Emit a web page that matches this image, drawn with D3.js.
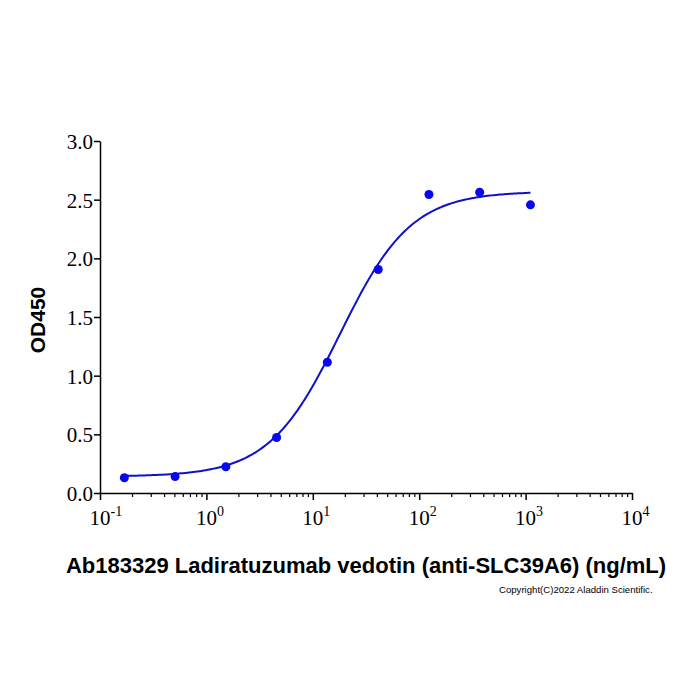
<!DOCTYPE html>
<html><head><meta charset="utf-8">
<script src="https://cdn.jsdelivr.net/npm/d3@7"></script>
<style>body{margin:0;background:#fff}svg{display:block}</style>
</head><body>
<svg id="c" width="700" height="700"></svg>
<script>
// Data
const concentrations = [0.1694, 0.508, 1.524, 4.57, 13.7, 41.2, 123.5, 370, 1111];
const od450 = [0.13, 0.14, 0.224, 0.473, 1.114, 1.905, 2.544, 2.563, 2.456];
// 4PL fit parameters
const fitBottom = 0.14, fitTop = 2.57, fitEC50 = 18, fitHill = 1.3;
const yTicks = [0, 0.5, 1.0, 1.5, 2.0, 2.5, 3.0];
const xDecades = [-1, 0, 1, 2, 3, 4];
const xTitle = "Ab183329 Ladiratuzumab vedotin (anti-SLC39A6) (ng/mL)";
const yTitle = "OD450";
const copyright = "Copyright(C)2022 Aladdin Scientific.";

const svg = d3.select("#c");
const L = 100, R = 632, T = 141, B = 493;
const x = d3.scaleLog().domain([0.1, 10000]).range([L, R]);
const y = d3.scaleLinear().domain([0, 3]).range([B, T]);

// Y axis
const yAxis = d3.axisLeft(y).tickValues(yTicks).tickFormat(d3.format(".1f")).tickSize(6).tickSizeOuter(0);
const gy = svg.append("g").attr("transform", `translate(${L},0)`).call(yAxis);
gy.select(".domain").attr("stroke", "#000").attr("stroke-width", 1.5);
gy.selectAll(".tick line").attr("stroke", "#000").attr("stroke-width", 1.5);
gy.selectAll(".tick text").attr("font-family", "'Liberation Serif','Times New Roman',serif")
  .attr("font-size", 21).attr("fill", "#000").attr("x", -7).attr("dy", "0.36em");

// X axis: major + minor ticks
const minor = [];
for (let e = -1; e < 4; e++) for (let k = 2; k <= 9; k++) minor.push(k * Math.pow(10, e));
const gxm = svg.append("g").attr("transform", `translate(0,${B})`)
  .call(d3.axisBottom(x).tickValues(minor).tickFormat("").tickSize(4).tickSizeOuter(0));
gxm.select(".domain").remove();
gxm.selectAll(".tick line").attr("stroke", "#000").attr("stroke-width", 1.2);
const gx = svg.append("g").attr("transform", `translate(0,${B})`)
  .call(d3.axisBottom(x).tickValues(xDecades.map(e => Math.pow(10, e))).tickFormat("").tickSize(7).tickSizeOuter(0));
gx.select(".domain").attr("stroke", "#000").attr("stroke-width", 1.5);
gx.selectAll(".tick line").attr("stroke", "#000").attr("stroke-width", 1.5);
gx.selectAll(".tick").each(function(d, i) {
  const t = d3.select(this).append("text")
    .attr("font-family", "'Liberation Serif','Times New Roman',serif")
    .attr("font-size", 21).attr("fill", "#000").attr("text-anchor", "start")
    .attr("x", -11).attr("y", 32);
  t.append("tspan").text("10");
  t.append("tspan").attr("font-size", 14).attr("dy", -9).text(String(xDecades[i]));
});

// Fitted curve
const fit = c => fitBottom + (fitTop - fitBottom) / (1 + Math.pow(fitEC50 / c, fitHill));
const lx0 = Math.log10(concentrations[0]), lx1 = Math.log10(concentrations[concentrations.length - 1]);
const curve = d3.range(0, 201).map(i => Math.pow(10, lx0 + (lx1 - lx0) * i / 200));
svg.append("path").datum(curve)
  .attr("d", d3.line().x(c => x(c)).y(c => y(fit(c))))
  .attr("fill", "none").attr("stroke", "#1010cc").attr("stroke-width", 2);

// Points
svg.append("g").selectAll("circle").data(concentrations).join("circle")
  .attr("cx", d => x(d)).attr("cy", (d, i) => y(od450[i])).attr("r", 4.5).attr("fill", "#0808f0");

// Titles
svg.append("text").attr("transform", `translate(45,320) rotate(-90)`)
  .attr("text-anchor", "middle").attr("font-family", "'Liberation Sans',Arial,sans-serif")
  .attr("font-weight", "bold").attr("font-size", 21).attr("fill", "#000").text(yTitle);
svg.append("text").attr("x", 366).attr("y", 573).attr("text-anchor", "middle")
  .attr("font-family", "'Liberation Sans',Arial,sans-serif")
  .attr("font-weight", "bold").attr("font-size", 22).attr("fill", "#000").text(xTitle);
svg.append("text").attr("x", 499).attr("y", 593).attr("text-anchor", "start")
  .attr("font-family", "'Liberation Sans',Arial,sans-serif")
  .attr("font-size", 9.6).attr("fill", "#000").text(copyright);
</script>
</body></html>
